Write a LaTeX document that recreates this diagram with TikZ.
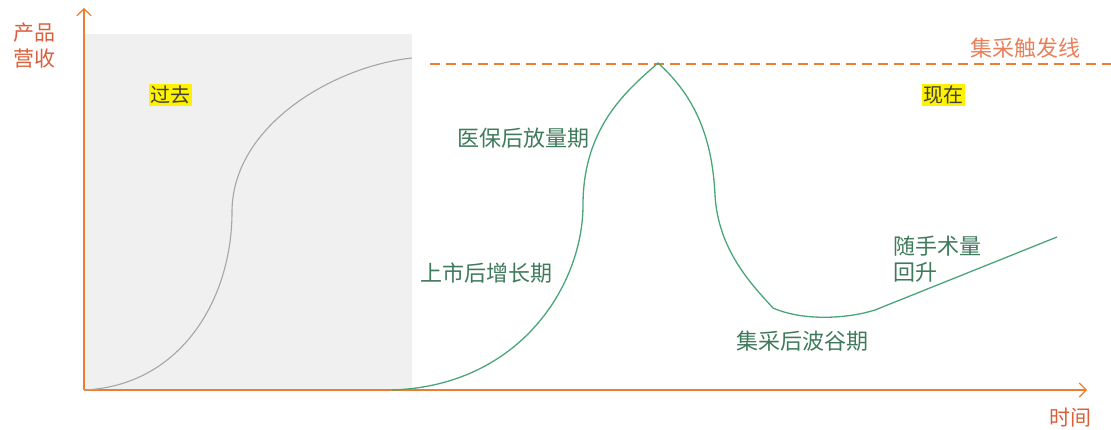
\documentclass[tikz,border=0pt]{standalone}
\usepackage{fontspec}
\setmainfont{Noto Sans CJK SC}
\usetikzlibrary{arrows.meta}
\definecolor{axisor}{HTML}{ED7D31}
\definecolor{labred}{HTML}{D9603B}
\definecolor{trigor}{HTML}{E8805A}
\definecolor{curvegreen}{HTML}{4AA57A}
\definecolor{textgreen}{HTML}{3F7A5C}
\definecolor{pastbg}{HTML}{F0F0F0}
\definecolor{graycurve}{HTML}{A6A6A6}
\tikzset{
  axisline/.style={draw=axisor, line width=1.3pt, -{Straight Barb[length=7pt,width=14pt,line width=1.2pt]}},
  axislabel/.style={text=labred, font=\fontsize{21}{26}\selectfont, align=left, inner sep=0pt},
  phaselabel/.style={text=textgreen, font=\fontsize{22}{26}\selectfont, align=left, inner sep=0pt},
  eralabel/.style={fill=yellow, text=black!75, font=\fontsize{20}{24}\selectfont, inner sep=1.5pt},
  greencurve/.style={draw=curvegreen, line width=1.3pt},
}
\begin{document}
\begin{tikzpicture}[x=1pt,y=-1pt]
\useasboundingbox (0,0) rectangle (1111,430);
% past background
\fill[pastbg] (84,34) rectangle (412,390);
% axes
\coordinate (origin) at (84,390);
\coordinate (ytip) at (84,8);
\coordinate (xtip) at (1087,390);
\draw[axisline] (origin) -- (ytip);
\draw[axisline] (origin) -- (xtip);
\node[axislabel] (ylab) at (34,46) {产品\\营收};
\node[axislabel] (xlab) at (1070,418) {时间};
% trigger line
\coordinate (trigstart) at (430,64);
\coordinate (trigend) at (1111,64);
\draw[draw=axisor, line width=1.5pt, dash pattern=on 10pt off 6pt] (trigstart) -- (trigend);
\node[text=trigor, font=\fontsize{22}{24}\selectfont, inner sep=0pt] (triglab) at (1025,48) {集采触发线};
% past curve
\coordinate (p0) at (84,390);
\coordinate (p1) at (232,212);
\coordinate (p2) at (412,58);
\draw[draw=graycurve, line width=1.1pt] (p0) .. controls (180,386) and (232,300) .. (p1) .. controls (232,125) and (335,66) .. (p2);
% green curve
\coordinate (g0) at (392,390);
\coordinate (g1) at (583,205);
\coordinate (peak) at (658,63);
\coordinate (g2) at (715,195);
\coordinate (g3) at (773,308);
\coordinate (g4) at (875,310);
\coordinate (g5) at (1057,237);
\draw[greencurve] (g0) .. controls (520,386) and (583,285) .. (g1)
  .. controls (583,125) and (630,88) .. (peak)
  .. controls (690,92) and (712,130) .. (g2)
  .. controls (718,250) and (752,285) .. (g3)
  .. controls (805,322) and (850,318) .. (g4) -- (g5);
% labels
\node[eralabel] (past) at (170,95) {过去};
\node[eralabel] (now) at (943,95) {现在};
\node[phaselabel] (boom) at (523,138) {医保后放量期};
\node[phaselabel] (grow) at (486,273) {上市后增长期};
\node[phaselabel] (valley) at (802,341) {集采后波谷期};
\node[phaselabel, anchor=west] (recover) at (893,259) {随手术量\\回升};
\end{tikzpicture}
\end{document}
